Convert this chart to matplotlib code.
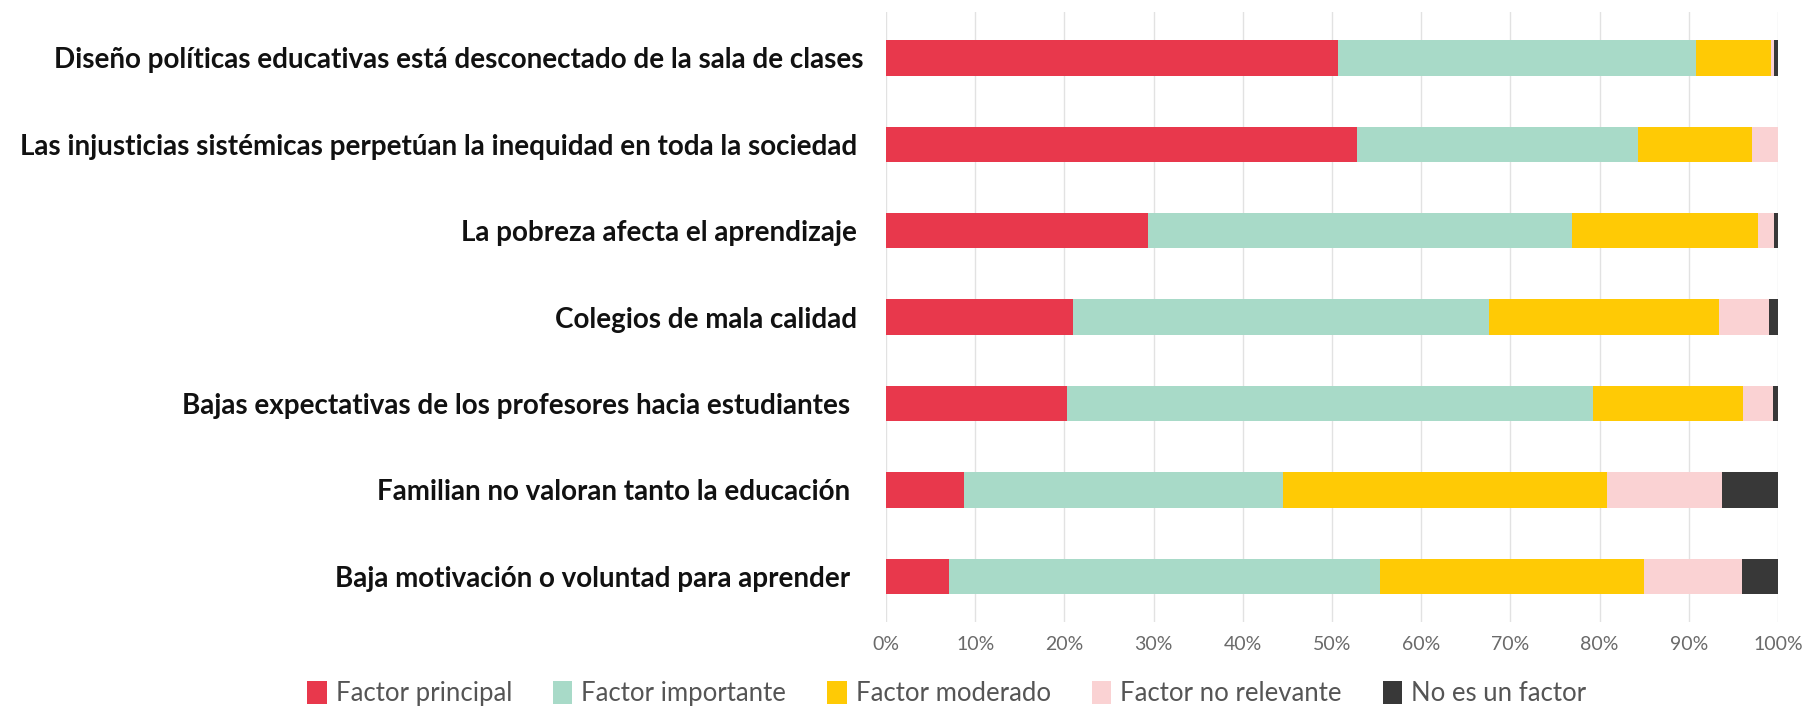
import matplotlib
matplotlib.use("Agg")
import matplotlib.pyplot as plt
from matplotlib.patches import Patch
import numpy as np

categories = [
    "Diseño políticas educativas está desconectado de la sala de clases",
    "Las injusticias sistémicas perpetúan la inequidad en toda la sociedad ",
    "La pobreza afecta el aprendizaje ",
    "Colegios de mala calidad ",
    "Bajas expectativas de los profesores hacia estudiantes  ",
    "Familian no valoran tanto la educación  ",
    "Baja motivación o voluntad para aprender  ",
]
series_names = ["Factor principal", "Factor importante", "Factor moderado",
                "Factor no relevante", "No es un factor"]
factor_principal = [50.7, 52.8, 29.4, 21.0, 20.3, 8.8, 7.1]
factor_importante = [40.1, 31.5, 47.5, 46.6, 59.0, 35.7, 48.3]
factor_moderado = [8.4, 12.8, 20.9, 25.8, 16.8, 36.3, 29.6]
factor_no_relevante = [0.4, 2.9, 1.8, 5.6, 3.4, 12.9, 11.0]
no_es_un_factor = [0.4, 0.0, 0.4, 1.0, 0.5, 6.3, 4.0]
x_ticks = [0, 10, 20, 30, 40, 50, 60, 70, 80, 90, 100]
x_tick_labels = ["0%", "10%", "20%", "30%", "40%", "50%", "60%", "70%", "80%", "90%", "100%"]

colors = ["#E8384C", "#A8DAC8", "#FFCA05", "#FAD2D3", "#383838"]

fig = plt.figure(figsize=(18.17, 7.09), dpi=100)
ax = fig.add_axes([0.4876, 0.1227, 0.4909, 0.8603])

series = [factor_principal, factor_importante, factor_moderado,
          factor_no_relevante, no_es_un_factor]
y = np.arange(len(categories))
left = np.zeros(len(categories))
for name, vals, c in zip(series_names, series, colors):
    vals = np.array(vals)
    ax.barh(y, vals, left=left, height=0.41, color=c, label=name,
            edgecolor="none", zorder=3)
    left += vals

ax.set_xlim(0, 100)
ax.set_ylim(6.53, -0.53)
ax.set_yticks(y)
ax.set_yticklabels(categories, fontfamily="Lato", fontweight="bold",
                   fontsize=20, color="#111111")
ax.set_xticks(x_ticks)
ax.set_xticklabels(x_tick_labels, fontfamily="Lato", fontweight="normal",
                   fontsize=14, color="#6a6a6a")
ax.tick_params(axis="both", length=0)
ax.tick_params(axis="y", pad=16)
ax.tick_params(axis="x", pad=10)
for s in ax.spines.values():
    s.set_visible(False)
ax.grid(axis="x", color="#E2E2E2", linewidth=1, zorder=0)
ax.set_axisbelow(True)

handles = [Patch(facecolor=c, edgecolor="none") for c in colors]
fig.legend(handles, series_names, loc="center", bbox_to_anchor=(0.521, 0.022),
           ncol=5, frameon=False, handlelength=0.75, handleheight=1.0,
           handletextpad=0.35, columnspacing=1.6,
           prop={"family": "Lato", "weight": "normal", "size": 18.5},
           labelcolor="#555555")

fig.savefig("out.png", dpi=100)
